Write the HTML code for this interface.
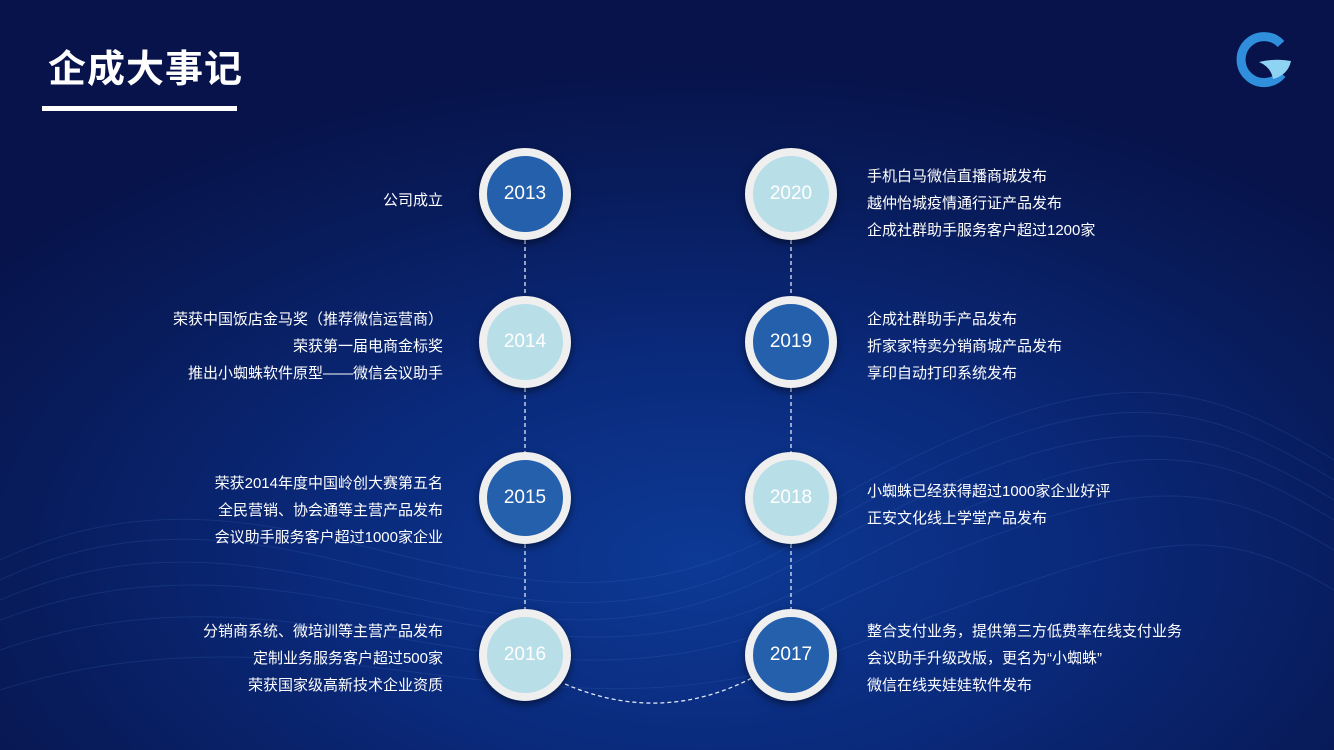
<!DOCTYPE html>
<html><head><meta charset="utf-8"><style>
body{margin:0}
#p{position:relative;width:1334px;height:750px;overflow:hidden;
background:radial-gradient(ellipse 900px 500px at 700px 560px,#0d3a95 0%,#0a2a7c 40%,#081c5c 75%,#07134a 100%);
font-family:"Liberation Sans","Noto Sans CJK SC",sans-serif;color:#fff}
.t{position:absolute;font-size:15px;line-height:27px;white-space:nowrap}
.l{right:891px;text-align:right}
.r{left:867px}
.c{position:absolute;width:76px;height:76px;border:8px solid #efefef;border-radius:50%;display:flex;align-items:center;justify-content:center;font-size:19px;color:#fff;box-shadow:0 3px 8px rgba(0,0,0,.5)}
.d{background:#2560ad}.lt{background:#b8dee8}
</style></head><body><div id="p">
<svg width="1334" height="750" style="position:absolute;left:0;top:0">
<g fill="none" stroke="#3f73c8" stroke-opacity=".2" stroke-width="1">
<path d="M0 560 C300 420 500 700 800 520 S1200 380 1334 460"/>
<path d="M0 580 C300 440 500 720 800 540 S1200 400 1334 480"/>
<path d="M0 600 C300 470 500 730 800 560 S1200 420 1334 500"/>
<path d="M0 620 C320 500 520 740 820 580 S1200 440 1334 520"/>
<path d="M0 650 C320 540 520 750 820 610 S1200 470 1334 550"/>
<path d="M0 690 C320 590 540 760 840 650 S1200 510 1334 590"/>
</g>
<g stroke="#e0e8f5" stroke-width="1.3" stroke-dasharray="4 3" fill="none">
<line x1="525" y1="240" x2="525" y2="296"/><line x1="525" y1="388" x2="525" y2="452"/><line x1="525" y1="544" x2="525" y2="609"/>
<line x1="791" y1="240" x2="791" y2="296"/><line x1="791" y1="388" x2="791" y2="452"/><line x1="791" y1="544" x2="791" y2="609"/>
<path d="M565 684 Q660 725 752 678"/>
</g>
<path d="M1281 44 A23 23 0 1 0 1282 74" fill="none" stroke="#2f8fdc" stroke-width="9"/>
<path d="M1259 62 Q1276 58 1291 61 Q1288 75 1273 79 Q1271 67 1259 62Z" fill="#8fd3f3"/>
</svg>
<div style="position:absolute;left:48px;top:38px;font-size:38px;font-weight:bold;letter-spacing:1px">企成大事记</div>
<div style="position:absolute;left:42px;top:106px;width:195px;height:5px;background:#fff"></div>
<div class="c d" style="left:479px;top:148px">2013</div>
<div class="c lt" style="left:479px;top:296px">2014</div>
<div class="c d" style="left:479px;top:452px">2015</div>
<div class="c lt" style="left:479px;top:609px">2016</div>
<div class="c lt" style="left:745px;top:148px">2020</div>
<div class="c d" style="left:745px;top:296px">2019</div>
<div class="c lt" style="left:745px;top:452px">2018</div>
<div class="c d" style="left:745px;top:609px">2017</div>
<div class="t l" style="top:187px">公司成立</div>
<div class="t l" style="top:306px">荣获中国饭店金马奖（推荐微信运营商）<br>荣获第一届电商金标奖<br>推出小蜘蛛软件原型——微信会议助手</div>
<div class="t l" style="top:470px">荣获2014年度中国岭创大赛第五名<br>全民营销、协会通等主营产品发布<br>会议助手服务客户超过1000家企业</div>
<div class="t l" style="top:618px">分销商系统、微培训等主营产品发布<br>定制业务服务客户超过500家<br>荣获国家级高新技术企业资质</div>
<div class="t r" style="top:163px">手机白马微信直播商城发布<br>越仲怡城疫情通行证产品发布<br>企成社群助手服务客户超过1200家</div>
<div class="t r" style="top:306px">企成社群助手产品发布<br>折家家特卖分销商城产品发布<br>享印自动打印系统发布</div>
<div class="t r" style="top:478px">小蜘蛛已经获得超过1000家企业好评<br>正安文化线上学堂产品发布</div>
<div class="t r" style="top:618px">整合支付业务，提供第三方低费率在线支付业务<br>会议助手升级改版，更名为“小蜘蛛”<br>微信在线夹娃娃软件发布</div>
</div></body></html>
